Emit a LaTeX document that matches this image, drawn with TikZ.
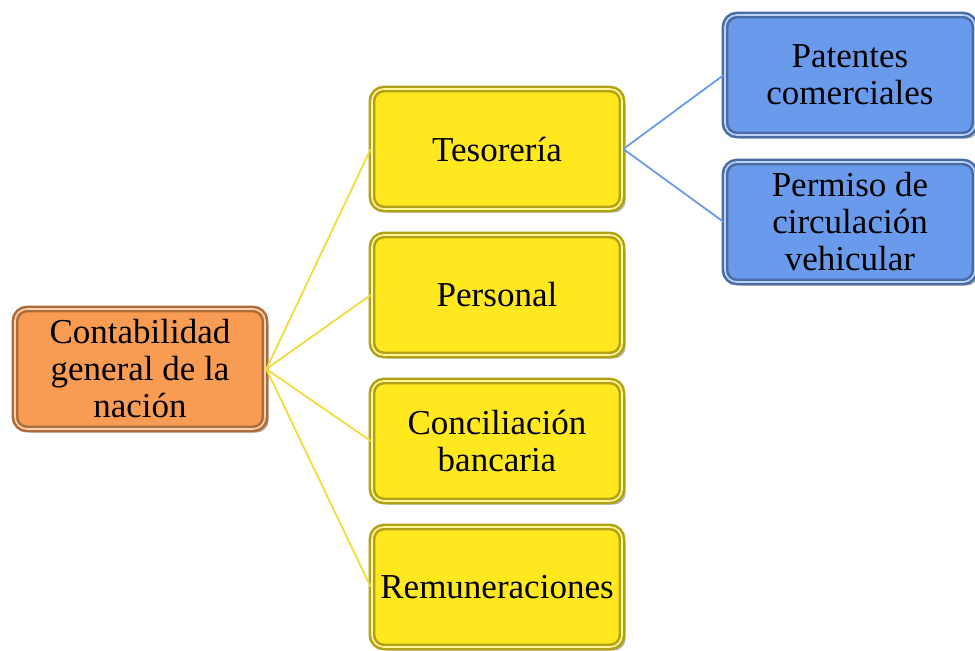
\documentclass[tikz,border=0pt]{standalone}
\usepackage{fontspec}
\setmainfont{Liberation Serif}
\usetikzlibrary{shadows}

\definecolor{orangebox}{HTML}{F79C52}
\definecolor{yellowbox}{HTML}{FFE81E}
\definecolor{bluebox}{HTML}{6A9AEC}
\definecolor{yellowline}{HTML}{F2DC3C}
\definecolor{blueline}{HTML}{6A9AEC}

\tikzset{
  box/.style={rectangle, rounded corners=6pt, fill=#1, draw=#1!70!black,
    line width=1.3pt, double=#1!45!white, double distance=0.8pt,
    minimum width=125pt, minimum height=60pt,
    inner sep=2pt, align=center,
    font=\fontsize{17.5}{18.5}\selectfont,
    drop shadow={shadow xshift=1.8pt, shadow yshift=-1.8pt, fill=black!60}},
  link/.style={line width=0.9pt, draw=#1}
}

\begin{document}
\begin{tikzpicture}[x=0.5pt, y=-0.5pt]
  \useasboundingbox (0,0) rectangle (975,650);
  % root
  \node[box=orangebox] (nacion) at (140,369)
    {Contabilidad\\general de la\\nación};
  % second level
  \node[box=yellowbox] (tesoreria) at (497,149) {Tesorería};
  \node[box=yellowbox] (personal) at (497,295) {Personal};
  \node[box=yellowbox] (conciliacion) at (497,441) {Conciliación\\bancaria};
  \node[box=yellowbox] (remuneraciones) at (497,587) {Remuneraciones};
  % third level
  \node[box=bluebox] (patentes) at (850,75) {Patentes\\comerciales};
  \node[box=bluebox] (permiso) at (850,222) {Permiso de\\circulación\\vehicular};
  % connectors
  \draw[link=yellowline] (nacion.east) -- (tesoreria.west);
  \draw[link=yellowline] (nacion.east) -- (personal.west);
  \draw[link=yellowline] (nacion.east) -- (conciliacion.west);
  \draw[link=yellowline] (nacion.east) -- (remuneraciones.west);
  \draw[link=blueline] (tesoreria.east) -- (patentes.west);
  \draw[link=blueline] (tesoreria.east) -- (permiso.west);
\end{tikzpicture}
\end{document}
